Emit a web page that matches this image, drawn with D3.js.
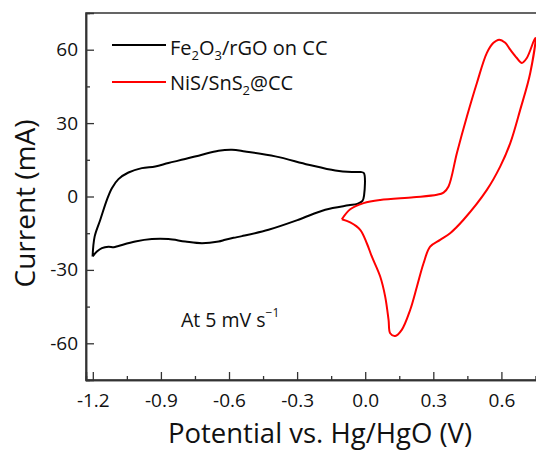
<!DOCTYPE html>
<html><head><meta charset="utf-8">
<script src="https://cdn.jsdelivr.net/npm/d3@7"></script>
<style>
body{margin:0;background:#fff;}
text{font-family:"Open Sans",sans-serif;fill:#111;}
</style></head>
<body><svg id="c" width="536" height="450"></svg>
<script>
const xTicks = [-1.2,-0.9,-0.6,-0.3,0.0,0.3,0.6];
const xMinor = [-1.05,-0.75,-0.45,-0.15,0.15,0.45,0.75];
const yTicks = [-60,-30,0,30,60];
const yMinor = [-45,-15,15,45];

const feX = [-1.201,-1.192,-1.167,-1.138,-1.116,-1.087,-1.043,-0.984,-0.925,-0.867,-0.793,-0.719,-0.646,-0.587,-0.529,-0.396,-0.25,-0.132,-0.059,-0.02,-0.006,-0.005,-0.012,-0.035,-0.074,-0.176,-0.294,-0.426,-0.543,-0.58,-0.617,-0.646,-0.719,-0.793,-0.867,-0.94,-1.013,-1.087,-1.108,-1.131,-1.16,-1.182,-1.201];
const feY = [-24.5,-16.4,-9.5,-1.4,3.4,7.1,9.8,11.6,12.3,13.7,15.3,17.1,18.7,19.1,18.4,16.4,13.0,10.6,10.0,10.0,9.6,0.5,-1.8,-3.0,-3.6,-5.4,-9.5,-13.6,-16.2,-16.9,-17.7,-18.4,-19.1,-18.4,-17.4,-17.4,-18.4,-20.2,-20.7,-20.5,-21.1,-22.5,-24.5];

const niX = [-0.103,-0.066,-0.007,0.066,0.213,0.316,0.345,0.367,0.404,0.448,0.492,0.536,0.565,0.590,0.617,0.639,0.668,0.690,0.712,0.749,0.727,0.683,0.639,0.595,0.536,0.433,0.374,0.330,0.286,0.257,0.228,0.198,0.161,0.132,0.110,0.103,0.088,0.066,0.029,0.007,-0.022,-0.066,-0.103];
const niY = [-9.3,-5.2,-2.7,-1.4,-0.3,0.7,1.6,4.1,17.8,32.7,46.4,58.7,62.8,64.1,62.8,60.0,56.6,54.6,56.6,64.8,50.5,35.5,21.8,12.3,2.7,-9.5,-15.0,-17.7,-20.5,-27.3,-36.8,-46.4,-54.5,-57.0,-55.9,-50.5,-40.9,-32.7,-24.5,-19.1,-13.6,-10.6,-9.3];

const svg = d3.select("#c");
const L=86, T=13, R=540, B=380;
const x = d3.scaleLinear().domain([-1.23,0.77]).range([L,R]);
const y = d3.scaleLinear().domain([-75,75]).range([B,T]);

svg.append("rect").attr("x",L).attr("y",T).attr("width",R-L).attr("height",B-T)
  .attr("fill","none").attr("stroke","#333").attr("stroke-width",1.5);

const gx = svg.append("g").attr("transform",`translate(0,${B})`)
  .call(d3.axisBottom(x).tickValues(xTicks).tickSize(-8).tickPadding(14).tickFormat(d3.format(".1f")));
svg.append("g").attr("transform",`translate(0,${B})`)
  .call(d3.axisBottom(x).tickValues(xMinor).tickSize(-4).tickFormat(""));
const gy = svg.append("g").attr("transform",`translate(${L},0)`)
  .call(d3.axisLeft(y).tickValues(yTicks).tickSize(-8).tickPadding(8).tickFormat(d3.format("d")));
svg.append("g").attr("transform",`translate(${L},0)`)
  .call(d3.axisLeft(y).tickValues(yMinor).tickSize(-4).tickFormat(""));
svg.selectAll(".domain").attr("stroke","#333").attr("stroke-width",1.5);
svg.selectAll(".tick line").attr("stroke","#333").attr("stroke-width",1.3);
svg.selectAll(".tick text").attr("font-family","Open Sans").attr("font-size",19).attr("fill","#111");
gx.selectAll(".tick text").text(d=> d3.format(".1f")(d).replace("−","-"));
gy.selectAll(".tick text").text(d=> String(d));

const line = d3.line().x(d=>x(d[0])).y(d=>y(d[1])).curve(d3.curveCatmullRom.alpha(0.5));
const fe = feX.map((v,i)=>[v,feY[i]]);
const ni = niX.map((v,i)=>[v,niY[i]]);
svg.append("path").attr("d",line(fe)).attr("fill","none").attr("stroke","#000").attr("stroke-width",2);
svg.append("path").attr("d",line(ni)).attr("fill","none").attr("stroke","#ff0000").attr("stroke-width",2);

svg.append("text").attr("x",320).attr("y",443).attr("text-anchor","middle")
  .attr("font-size",27.5).text("Potential vs. Hg/HgO (V)");
svg.append("text").attr("transform","translate(35,203.5) rotate(-90)").attr("text-anchor","middle")
  .attr("font-size",28).text("Current (mA)");

const lg = svg.append("g");
lg.append("line").attr("x1",112).attr("x2",166).attr("y1",45).attr("y2",45).attr("stroke","#000").attr("stroke-width",2);
lg.append("line").attr("x1",112).attr("x2",166).attr("y1",82).attr("y2",82).attr("stroke","#ff0000").attr("stroke-width",2);
const t1 = lg.append("text").attr("x",170).attr("y",55).attr("font-size",20);
t1.append("tspan").text("Fe");
t1.append("tspan").attr("font-size",13).attr("dy",5).text("2");
t1.append("tspan").attr("dy",-5).text("O");
t1.append("tspan").attr("font-size",13).attr("dy",5).text("3");
t1.append("tspan").attr("dy",-5).text("/rGO on CC");
const t2 = lg.append("text").attr("x",170).attr("y",90).attr("font-size",20);
t2.append("tspan").text("NiS/SnS");
t2.append("tspan").attr("font-size",13).attr("dy",5).text("2");
t2.append("tspan").attr("dy",-5).text("@CC");

const an = svg.append("text").attr("x",181).attr("y",327).attr("font-size",19.5);
an.append("tspan").text("At 5 mV s");
an.append("tspan").attr("font-size",12).attr("dy",-10).text("−1");
</script></body></html>
